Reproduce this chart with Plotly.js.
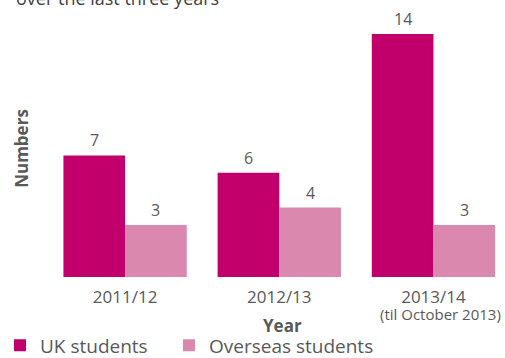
<!DOCTYPE html>
<html>
<head>
<meta charset="utf-8">
<script src="https://cdn.plot.ly/plotly-3.0.1.min.js"></script>
<style>html,body{margin:0;padding:0;background:#fff;}#chart{width:505px;height:358px;}</style>
</head>
<body>
<div id="chart"></div>
<script>
var categories = ["2011/12", "2012/13", "2013/14"];
var tickLabels = ["2011/12", "2012/13", "2013/14"];
var tickNote = "(til October 2013)";
var ukStudents = [7, 6, 14];
var overseasStudents = [3, 4, 3];
var seriesNames = ["UK students", "Overseas students"];

var FONT = "Open Sans, Noto Sans, sans-serif";
var GREY = "#595959";
var ukColor = "#C2006B";
var osColor = "#DB88AF";

var traces = [
  {type: "bar", x: categories, y: ukStudents, name: seriesNames[0], marker: {color: ukColor}, hoverinfo: "none", legend: "legend"},
  {type: "bar", x: categories, y: overseasStudents, name: seriesNames[1], marker: {color: osColor}, hoverinfo: "none", legend: "legend2"}
];

var annotations = [];
var offsets = [-0.2, 0.2];
[ukStudents, overseasStudents].forEach(function (arr, s) {
  arr.forEach(function (v, i) {
    annotations.push({
      x: i + offsets[s], y: v, xref: "x", yref: "y",
      text: String(v), showarrow: false, yanchor: "bottom", yshift: 2,
      font: {family: FONT, size: 16, color: GREY}
    });
  });
});
annotations.push({
  x: -0.0744, xref: "paper", y: 1.0856, yref: "paper", text: "over the last three years",
  showarrow: false, xanchor: "left", yanchor: "middle",
  font: {family: FONT, size: 18, color: "#404040"}
});
annotations.push({
  x: 0.514, xref: "paper", y: -0.187, yref: "paper", text: "<b>Year</b>",
  showarrow: false, xanchor: "center", yanchor: "middle",
  font: {family: FONT, size: 17, color: GREY}
});
annotations.push({
  x: 2, xref: "x", xshift: 7, y: -0.143, yref: "paper", text: tickNote,
  showarrow: false, xanchor: "center", yanchor: "middle",
  font: {family: FONT, size: 15, color: GREY}
});

var legendCommon = {
  orientation: "h", xref: "container", yref: "container",
  y: 0.035, xanchor: "left", yanchor: "middle",
  font: {family: FONT, size: 19, color: GREY},
  itemwidth: 30, bgcolor: "rgba(0,0,0,0)"
};

var layout = {
  width: 505, height: 358,
  margin: {l: 48, r: 0, t: 20, b: 81},
  paper_bgcolor: "#fff", plot_bgcolor: "#fff",
  barmode: "group", bargap: 0.2, bargroupgap: 0,
  font: {family: FONT, color: GREY},
  showlegend: true,
  legend: Object.assign({}, legendCommon, {x: -0.008}),
  legend2: Object.assign({}, legendCommon, {x: 0.3346}),
  xaxis: {
    type: "category", range: [-0.5, 2.464],
    tickmode: "array", tickvals: [0, 1, 2], ticktext: tickLabels,
    showgrid: false, zeroline: false, showline: false, ticks: "",
    ticklabelstandoff: 8,
    tickfont: {family: FONT, size: 17, color: GREY}
  },
  yaxis: {
    range: [0, 14.8], showgrid: false, zeroline: false, showline: false,
    showticklabels: false, ticks: "",
    title: {text: "<b>Numbers</b>", font: {family: FONT, size: 17, color: GREY}, standoff: 14}
  },
  annotations: annotations
};

Plotly.newPlot("chart", traces, layout, {displayModeBar: false, staticPlot: true});
</script>
</body>
</html>
